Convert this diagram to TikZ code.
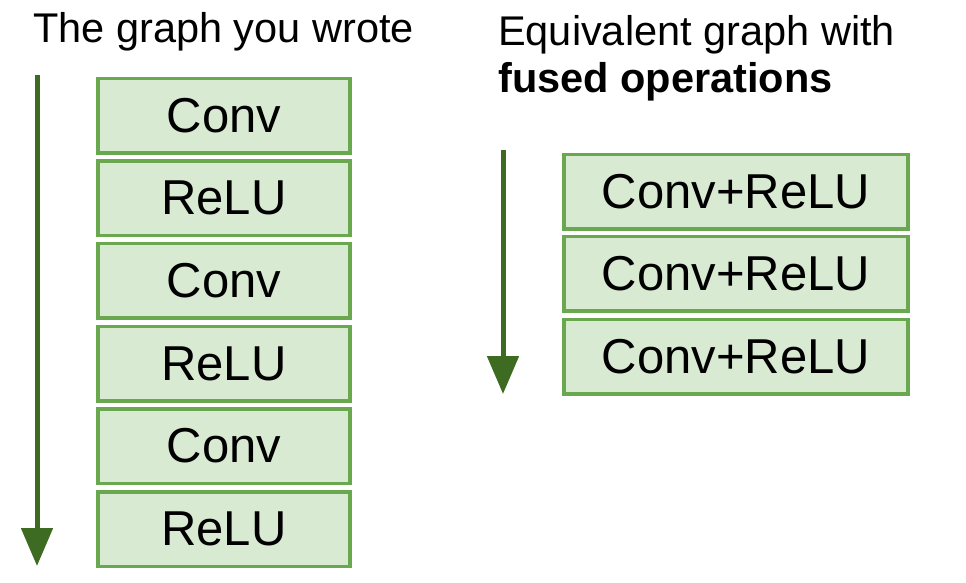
\documentclass[tikz,border=0pt]{standalone}
\usepackage{fontspec}
\setmainfont{Liberation Sans}
\usetikzlibrary{arrows.meta}
\definecolor{boxfill}{HTML}{D9EAD3}
\definecolor{boxline}{HTML}{6AA84F}
\definecolor{arrowgreen}{HTML}{3D6B22}
\begin{document}
\begin{tikzpicture}[x=1pt,y=-1pt,
  opbox/.style={draw=boxline, fill=boxfill, line width=3.5pt, inner sep=0pt,
    minimum height=74.5pt, font=\fontsize{49}{56}\selectfont},
  leftbox/.style={opbox, minimum width=252pt},
  rightbox/.style={opbox, minimum width=344pt},
  flow/.style={draw=arrowgreen, line width=5pt, -{Triangle[width=31pt,length=38pt]}},
  title/.style={anchor=base west, inner sep=0pt, font=\fontsize{41.5}{48}\selectfont}]
\useasboundingbox (0,0) rectangle (966,582);
\node[title] (t1) at (33,42) {The graph you wrote};
\node[title] (t2) at (498,45) {Equivalent graph with};
\node[title, font=\fontsize{41.5}{48}\selectfont\bfseries] (t3) at (498,92) {fused operations};
\node[leftbox] (l1) at (224,115.5) {Conv};
\node[leftbox] (l2) at (224,198) {ReLU};
\node[leftbox] (l3) at (224,280.5) {Conv};
\node[leftbox] (l4) at (224,363.5) {ReLU};
\node[leftbox] (l5) at (224,446) {Conv};
\node[leftbox] (l6) at (224,529) {ReLU};
\node[rightbox] (r1) at (736,191.5) {Conv+ReLU};
\node[rightbox] (r2) at (736,273.5) {Conv+ReLU};
\node[rightbox] (r3) at (736,356.5) {Conv+ReLU};
\coordinate (la) at (37,75);
\coordinate (lb) at (37,566);
\coordinate (ra) at (503,150);
\coordinate (rb) at (503,394);
\draw[flow] (la) -- (lb);
\draw[flow] (ra) -- (rb);
\end{tikzpicture}
\end{document}
